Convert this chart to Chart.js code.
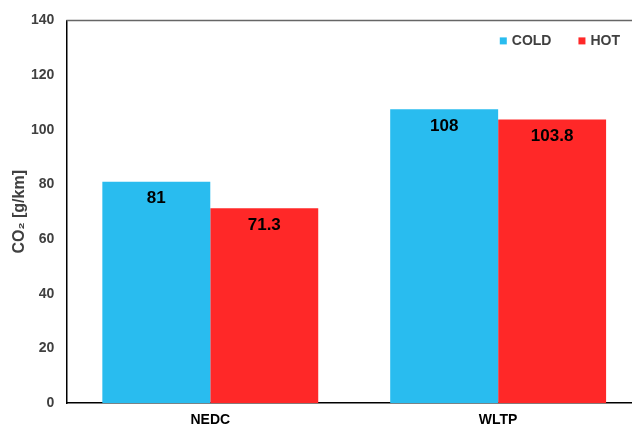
<!DOCTYPE html>
<html>
<head>
<meta charset="utf-8">
<script src="https://cdn.jsdelivr.net/npm/chart.js@4"></script>
<style>
  html, body { margin: 0; padding: 0; background: #fff; }
  #wrap { width: 632px; height: 430px; }
</style>
</head>
<body>
<div id="wrap"><canvas id="myChart"></canvas></div>
<script>
// data
const cycles = ["NEDC", "WLTP"];
const coldValues = [81, 107.5];
const hotValues = [71.3, 103.8];
const coldLabels = ["81", "108"];
const hotLabels = ["71.3", "103.8"];
const yTicks = [0, 20, 40, 60, 80, 100, 120, 140];

const FONT = "'Liberation Sans', Arial, sans-serif";

function points(values) {
  return values.map((v, i) => ({ x: i, y: v }));
}

// value labels inside the bars
const barLabels = {
  id: "barLabels",
  afterDatasetsDraw(chart) {
    const ctx = chart.ctx;
    const texts = [coldLabels, hotLabels];
    ctx.save();
    ctx.font = "bold 17px " + FONT;
    ctx.fillStyle = "#000";
    ctx.textAlign = "center";
    ctx.textBaseline = "middle";
    chart.data.datasets.forEach((ds, d) => {
      chart.getDatasetMeta(d).data.forEach((bar, i) => {
        ctx.fillText(texts[d][i], bar.x, bar.y + 17);
      });
    });
    ctx.restore();
  }
};

// grey line on top of the plot + legend in the top right corner
const frameAndLegend = {
  id: "frameAndLegend",
  afterDraw(chart) {
    const a = chart.chartArea;
    const ctx = chart.ctx;
    ctx.save();
    ctx.strokeStyle = "#666";
    ctx.lineWidth = 1.5;
    ctx.beginPath();
    ctx.moveTo(a.left, a.top);
    ctx.lineTo(a.right, a.top);
    ctx.stroke();

    ctx.font = "bold 14px " + FONT;
    ctx.textBaseline = "middle";
    const y = a.top + 21;
    let x = a.right - 12;
    const items = chart.data.datasets.slice().reverse();
    items.forEach((ds) => {
      const w = ctx.measureText(ds.label).width;
      x -= w;
      ctx.fillStyle = "#404040";
      ctx.fillText(ds.label, x, y);
      x -= 12;
      ctx.fillStyle = ds.backgroundColor;
      ctx.fillRect(x, y - 4, 7, 7);
      x -= 27;
    });
    ctx.restore();
  }
};

const ctx1 = document.getElementById("myChart").getContext("2d");

const config1 = {
  type: "bar",
  data: {
    datasets: [
      {
        label: "COLD",
        data: points(coldValues),
        backgroundColor: "#29BCEF",
      },
      {
        label: "HOT",
        data: points(hotValues),
        backgroundColor: "#FF2828",
      },
    ],
  },
  options: {
    responsive: true,
    maintainAspectRatio: false,
    animation: false,
    layout: { padding: { top: 20, left: 0, right: 0, bottom: -8 } },
    categoryPercentage: 0.75,
    barPercentage: 1,
    plugins: {
      tooltip: { enabled: false },
      legend: { display: false },
    },
    scales: {
      x: {
        type: "linear",
        offset: false,
        min: -0.5,
        max: 1.465,
        grid: { display: false, drawTicks: false },
        border: { color: "#000", width: 1.5 },
        afterBuildTicks(scale) {
          scale.ticks = cycles.map((c, i) => ({ value: i }));
        },
        ticks: {
          padding: 9,
          color: "#000",
          font: { family: FONT, size: 14, weight: "bold" },
          callback: (v) => cycles[v],
        },
      },
      y: {
        min: 0,
        max: 140,
        grid: { display: false, drawTicks: false },
        border: { color: "#000", width: 1.5 },
        afterBuildTicks(scale) {
          scale.ticks = yTicks.map((v) => ({ value: v }));
        },
        ticks: {
          padding: 12,
          color: "#404040",
          font: { family: FONT, size: 14, weight: "bold" },
        },
        title: {
          display: true,
          text: "CO\u2082 [g/km]",
          color: "#404040",
          padding: { top: 10, bottom: -10.2 },
          font: { family: FONT, size: 16, weight: "bold" },
        },
      },
    },
  },
  plugins: [barLabels, frameAndLegend],
};

const myChart1 = new Chart(ctx1, config1);
</script>
</body>
</html>
